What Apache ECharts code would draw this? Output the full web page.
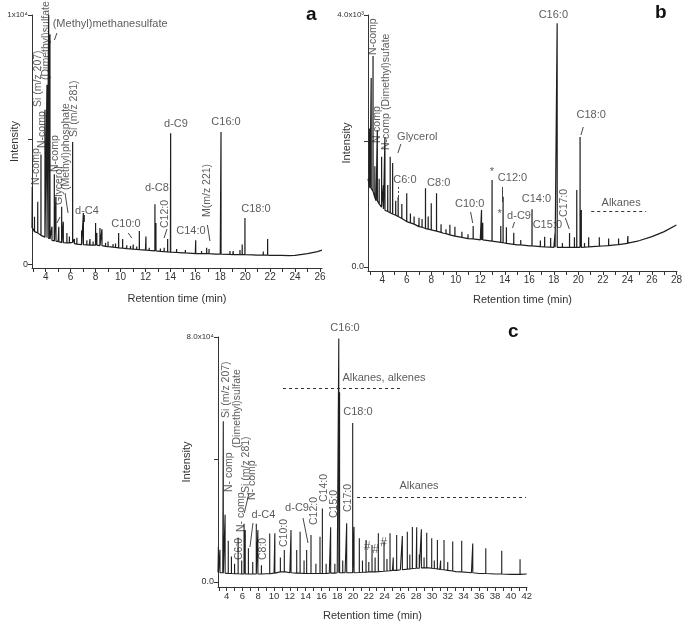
<!DOCTYPE html>
<html><head><meta charset="utf-8">
<script src="https://cdn.jsdelivr.net/npm/echarts@6/dist/echarts.min.js"></script>
<style>html,body{margin:0;padding:0;background:#fff}#c{width:685px;height:626px}</style>
</head><body><div id="c"></div>
<script>
const FONT = '"Liberation Sans", Arial, sans-serif';

// ---------- Panel a ----------
const xLabelsA = [4,6,8,10,12,14,16,18,20,22,24,26];
const xTicksA = [3,4,5,6,7,8,9,10,11,12,13,14,15,16,17,18,19,20,21,22,23,24,25,26];
const yTicksA = [0,5000,10000];
const yLabelsA = [0,10000];
const baselineA = [[2.9,1450],[3.2,1300],[3.5,1200],[4.0,1080],[4.5,950],[5.0,900],[5.5,850],[6.0,860],[6.5,800],[7.0,780],[7.5,760],[8.0,750],[9.0,700],[10.0,640],[11.0,600],[12.0,560],[13.0,520],[14.0,480],[15.0,450],[16.0,420],[17.0,410],[18.0,400],[19.0,380],[20.0,370],[21.0,360],[22.0,350],[23.0,340],[24.0,345],[25.0,420],[25.8,500],[26.15,560]];
// [time, local baseline, peak top]
const peaksA = [[2.92,1450,3100],[3.1,1300,1900],[3.36,1250,2500],[3.62,1150,4400],[3.94,1080,6200],[4.1,1050,7200],[4.24,1000,10000],[4.34,1000,9200],[4.5,950,1500],[4.69,930,3600],[4.82,920,2700],[5.05,900,1500],[5.28,860,2300],[5.41,860,1700],[5.7,850,1250],[5.9,850,1100],[6.16,870,4900],[6.3,820,1000],[6.5,800,1050],[6.88,780,1350],[7.02,780,2050],[7.3,770,950],[7.55,760,1000],[7.8,760,900],[8.0,760,1650],[8.1,760,1250],[8.35,740,1450],[8.51,740,1400],[8.8,710,850],[9.0,700,900],[9.4,680,800],[9.6,670,820],[9.85,650,1250],[10.17,640,1000],[10.5,620,750],[10.8,610,720],[11.02,600,780],[11.3,590,700],[11.51,580,1330],[12.04,560,1100],[12.3,550,650],[12.76,530,2400],[12.84,530,1650],[13.2,510,620],[13.5,500,650],[13.78,490,1000],[14.02,480,5250],[14.5,470,600],[15.2,450,560],[15.5,440,520],[16.03,420,950],[16.5,420,520],[16.91,420,650],[17.1,420,600],[17.6,400,480],[18.06,400,5300],[18.78,390,520],[19.04,380,520],[19.3,380,450],[19.58,380,560],[19.76,380,780],[19.98,380,1850],[20.6,370,450],[20.9,360,420],[21.45,360,500],[21.8,360,1000],[22.3,350,420],[22.92,350,420],[23.5,340,380]];
// [text, time, intensity, rotated]
const annotA = [
  ['(Methyl)methanesulfate',4.56,9638,0,'left'],['d-C9',14.45,5622,0],['C16:0',18.46,5703,0],['d-C8',12.92,3052,0],
  ['C18:0',20.86,2209,0],['C10:0',10.44,1606,0],['C14:0',15.65,1325,0],['d-C4',7.31,2128,0],
  ['M(m/z 221)',16.97,1888,1],['C12:0',13.54,1446,1],['N-comp',3.22,3173,1],['Si (m/z 207)',3.38,6305,1],
  ['N-comp',3.74,4659,1],['(Dimethyl)sulfate',4.06,7389,1],['N-comp',4.74,3695,1],['Glycerol',5.11,2369,1],
  ['(Methyl)phosphate',5.63,2972,1],['Si (m/z 281)',6.27,5100,1]
];
const leadersA = [[4.70,8996,4.90,9277],[10.62,1245,10.90,1044],[16.97,1566,17.17,924],[13.49,1044,13.73,1406],[4.90,1647,5.15,1888],[5.55,2851,5.79,2048],[7.07,1968,7.07,1687]];
const dashesA = [];

// ---------- Panel b ----------
const xLabelsB = [4,6,8,10,12,14,16,18,20,22,24,26,28];
const xTicksB = [3,4,5,6,7,8,9,10,11,12,13,14,15,16,17,18,19,20,21,22,23,24,25,26,27,28];
const yTicksB = [0,2000,4000];
const yLabelsB = [0,4000];
const baselineB = [[2.84,1400],[3.0,1250],[3.5,1050],[4.0,950],[5.0,825],[6.0,720],[7.0,635],[8.0,590],[9.0,535],[10.0,480],[11.0,450],[12.0,430],[13.0,400],[14.0,375],[15.0,350],[16.0,335],[17.0,320],[18.0,312],[19.0,310],[20.0,312],[21.0,320],[22.0,333],[23.0,350],[24.0,376],[25.0,420],[26.0,481],[27.0,561],[28.0,667],[28.04,675]];
const peaksB = [[2.95,1300,2200],[3.1,1250,3000],[3.25,1200,3350],[3.4,1100,1600],[3.6,1050,2170],[3.75,1000,1400],[3.95,950,1750],[4.1,920,1300],[4.22,900,2060],[4.45,880,1300],[4.65,860,1750],[4.85,840,1650],[5.1,820,1050],[5.3,800,1110],[5.6,770,1000],[6.0,720,1170],[6.3,700,850],[6.6,680,800],[7.0,640,780],[7.25,630,760],[7.53,610,1250],[7.75,600,800],[8.0,590,1010],[8.43,570,1170],[8.8,550,680],[9.2,530,600],[9.52,510,670],[9.93,490,640],[10.5,470,560],[11.0,450,520],[11.42,445,650],[12.1,430,905],[12.2,430,700],[12.96,410,1380],[13.67,390,650],[13.86,385,1116],[14.13,375,630],[14.73,360,545],[15.3,350,430],[16.22,335,915],[16.9,322,420],[17.25,320,481],[17.74,315,460],[18.1,312,540],[18.27,312,3870],[18.7,310,380],[19.28,310,540],[19.68,310,470],[19.87,311,1222],[20.14,312,2063],[20.24,312,905],[20.5,315,380],[20.84,318,470],[21.71,330,470],[22.47,340,450],[23.28,355,450],[24.04,378,492],[24.83,410,430]];
const annotB = [
  ['Glycerol',6.86,2063,0],['C6:0',5.85,1381,0],['C8:0',8.61,1333,0],['*',12.95,1508,0],['C12:0',14.63,1412,0],
  ['C10:0',11.13,1000,0],['*',13.57,841,0],['d-C9',15.16,809,0],['C14:0',16.58,1079,0],['C15:0',17.47,667,0],
  ['Alkanes',23.49,1016,0],['C16:0',17.96,3999,0],['C18:0',21.05,2412,0],
  ['N-comp',3.29,3364,1],['(Dimethyl)sufate',4.30,2492,1],['N-comp',3.57,1968,1],['N-comp',4.34,1857,1],['C17:0',18.86,794,1]
];
const leadersB = [[5.28,1809,5.52,1952],[13.82,1270,13.82,1032],[11.21,873,11.38,698],[14.63,619,14.79,714],[18.94,778,19.26,603],[20.21,2095,20.40,2222]];
const dashedLeadersB = [[5.28,1270,5.28,1063]];
const dashesB = [[21.05,25.52,889]];

// ---------- Panel c ----------
const xLabelsC = [4,6,8,10,12,14,16,18,20,22,24,26,28,30,32,34,36,38,40,42];
const xTicksC = [3,4,5,6,7,8,9,10,11,12,13,14,15,16,17,18,19,20,21,22,23,24,25,26,27,28,29,30,31,32,33,34,35,36,37,38,39,40,41,42];
const yTicksC = [0,40000,80000];
const yLabelsC = [0,80000];
const baselineC = [[2.9,3200],[3.5,3000],[4,2800],[5,2700],[6,2600],[7,2600],[8,2600],[9,2700],[10,2900],[10.8,3400],[11.5,3300],[12,3000],[13,2900],[14,2800],[15,2800],[16,2800],[17,2900],[18,3000],[19,3000],[20,3000],[21,3100],[22,3300],[23,3400],[24,3600],[25,3800],[26,4000],[27,4300],[28,4500],[29,4700],[30,4500],[31,4100],[32,3800],[33,3400],[34,3100],[35,3000],[36,2800],[37,2700],[38,2600],[40,2500],[42,2600],[42.04,2600]];
const peaksC = [[2.95,3000,11500],[3.15,3000,10500],[3.57,2900,52500],[3.8,2900,22000],[4.2,2800,13500],[4.6,2800,8300],[5.0,2700,6000],[5.45,2700,14500],[5.9,2600,7000],[6.2,2600,19000],[6.35,2600,17000],[6.75,2600,11000],[7.3,2600,6500],[7.75,2600,19000],[7.95,2600,17000],[8.4,2600,5500],[9.45,2700,15800],[10.1,2900,15900],[10.8,3300,8000],[11.3,3400,10450],[12.15,3000,17000],[12.87,2900,10450],[13.3,2900,16400],[13.8,2800,7000],[14.13,2800,10450],[14.68,2800,15350],[15.3,2800,6000],[15.82,2800,14800],[16.12,2800,24000],[16.6,2800,6000],[17.17,2900,17850],[17.7,2900,6000],[18.2,3000,79500],[18.3,3000,62000],[18.7,3000,7000],[19.2,3000,19150],[19.96,3000,51900],[20.13,3000,18000],[20.8,3100,14300],[21.2,3200,7000],[21.65,3200,13700],[22.0,3300,6500],[22.41,3300,12100],[22.8,3300,8000],[23.21,3400,15900],[23.93,3500,13200],[24.3,3600,7500],[24.69,3700,15900],[25.1,3800,8000],[25.53,3800,15350],[26.25,4000,15000],[26.88,4200,16400],[27.2,4300,9000],[27.52,4400,18000],[28.07,4500,17850],[28.4,4500,9000],[28.66,4600,17200],[29.0,4600,8000],[29.34,4700,16100],[29.97,4500,14300],[30.3,4400,7000],[30.69,4300,13700],[31.1,4100,7000],[31.53,4000,13700],[32.0,3800,6500],[32.63,3600,13200],[33.77,3300,13500],[35.17,3000,12600],[36.82,2800,11000],[38.84,2600,10200],[41.16,2500,7400]];
const annotC = [
  ['C16:0',18.99,82931,0],['Alkanes, alkenes',23.93,66606,0],['C18:0',20.63,55505,0],['d-C4',8.66,21876,0],
  ['d-C9',12.91,24161,0],['#',21.77,11428,0],['#',22.85,10448,0],['#',23.86,12734,0],['Alkanes',28.36,31344,0],
  ['Si (m/z 207)',3.91,53546,1],['(Dimethyl)sulfate',5.37,43751,1],['N- comp',4.29,29385,1],['Si (m/z 281)',6.45,29059,1],
  ['N- comp',7.27,26773,1],['C6:0',5.56,7183,1],['N- comp',5.81,16325,1],['C8:0',8.60,7183,1],['C10:0',11.26,11428,1],
  ['C12:0',15.06,18611,1],['C14:0',16.33,26120,1],['C15:0',17.59,20896,1],['C17:0',19.43,22855,1]
];
const leadersC = [[6.95,11428,7.33,19264],[13.67,20896,14.30,12734],[6.23,22529,6.83,29059]];
const dashesC = [[11.13,26.21,63341],[20.51,41.91,27524]];

// ---------- build ----------
function traceData(base, peaks) {
  const pts = base.map(p => [p[0], p[1]]);
  peaks.forEach(p => { pts.push([p[0] - 0.004, p[1]], [p[0], p[2]], [p[0] + 0.004, p[1]]); });
  pts.sort((a, b) => a[0] - b[0]);
  return pts;
}
const grids = [
  {left: 32, top: 15, width: 290, height: 253},
  {left: 368, top: 15, width: 310, height: 256},
  {left: 218, top: 337, width: 309, height: 250}
];
const xr = [[2.9, 26.16], [2.84, 28.04], [2.9, 42.04]];
const yr = [[-160, 10000], [-64, 4000], [-1630, 80000]];
const xLab = [xLabelsA, xLabelsB, xLabelsC];
const xTk = [xTicksA, xTicksB, xTicksC];
const yTk = [yTicksA, yTicksB, yTicksC];
const yLab = [yLabelsA, yLabelsB, yLabelsC];
const yTopText = ['1x10⁴', '4.0x10³', '8.0x10⁴'];
const yZeroText = ['0', '0.0', '0.0'];
const xNameGap = [25, 23, 23];
const yNameGap = [12, 16, 26];
const xFont = [10, 10, 9.5];

const xAxes = [], yAxes = [], series = [];
for (let i = 0; i < 3; i++) {
  xAxes.push({
    type: 'value', gridIndex: i, min: xr[i][0], max: xr[i][1],
    axisLine: {onZero: false, lineStyle: {color: '#333', width: 1}},
    axisTick: {customValues: xTk[i], length: 4, lineStyle: {color: '#333'}},
    axisLabel: {customValues: xLab[i], fontSize: xFont[i], color: '#333', margin: 4, fontFamily: FONT},
    splitLine: {show: false},
    name: 'Retention time (min)', nameLocation: 'middle', nameGap: xNameGap[i], nameMoveOverlap: false,
    nameTextStyle: {fontSize: 11, color: '#333', fontFamily: FONT}
  });
  const top = yTopText[i], zero = yZeroText[i];
  yAxes.push({
    type: 'value', gridIndex: i, min: yr[i][0], max: yr[i][1],
    axisLine: {show: true, onZero: false, lineStyle: {color: '#333', width: 1}},
    axisTick: {show: true, customValues: yTk[i], length: 4, lineStyle: {color: '#333'}},
    axisLabel: {customValues: yLab[i], margin: 4, fontFamily: FONT,
      formatter: v => v === 0 ? '{z|' + zero + '}' : '{t|' + top + '}',
      rich: {z: {fontSize: 9, color: '#333', fontFamily: FONT}, t: {fontSize: 8, color: '#333', fontFamily: FONT}}},
    splitLine: {show: false},
    name: 'Intensity', nameLocation: 'middle', nameGap: yNameGap[i], nameMoveOverlap: false,
    nameTextStyle: {fontSize: 11, color: '#333', fontFamily: FONT}
  });
}
const baseL = [baselineA, baselineB, baselineC];
const peakL = [peaksA, peaksB, peaksC];
const annL = [annotA, annotB, annotC];
const leadL = [leadersA, leadersB, leadersC];
const dLeadL = [[], dashedLeadersB, []];
const dashL = [dashesA, dashesB, dashesC];
const lineW = [1.2, 1.2, 1.1];

for (let i = 0; i < 3; i++) {
  const ml = [];
  leadL[i].forEach(l => ml.push([{coord: [l[0], l[1]], lineStyle: {type: 'solid', color: '#333', width: 0.9}}, {coord: [l[2], l[3]]}]));
  dLeadL[i].forEach(l => ml.push([{coord: [l[0], l[1]], lineStyle: {type: [2, 2], color: '#333', width: 0.9}}, {coord: [l[2], l[3]]}]));
  dashL[i].forEach(d => ml.push([{coord: [d[0], d[2]], lineStyle: {type: [3, 3], color: '#333', width: 1}}, {coord: [d[1], d[2]]}]));
  series.push({
    type: 'line', xAxisIndex: i, yAxisIndex: i, data: traceData(baseL[i], peakL[i]),
    showSymbol: false, symbol: 'none', silent: true, animation: false,
    lineStyle: {color: '#1e1e1e', width: lineW[i]},
    markLine: {silent: true, symbol: 'none', animation: false, label: {show: false}, emphasis: {disabled: true}, data: ml}
  });
  const horiz = annL[i].filter(a => !a[3]);
  const vert = annL[i].filter(a => a[3]);
  series.push({
    type: 'scatter', xAxisIndex: i, yAxisIndex: i, symbolSize: 0.1, clip: false, silent: true, animation: false,
    itemStyle: {color: 'transparent'},
    data: horiz.map(a => ({name: a[0], value: [a[1], a[2]], label: {align: a[4] || 'center', fontSize: a[0] === '#' ? 12 : 11}})),
    label: {show: true, position: 'inside', formatter: '{b}', color: '#333', fontSize: 11, fontFamily: FONT, verticalAlign: 'middle'}
  });
  series.push({
    type: 'scatter', xAxisIndex: i, yAxisIndex: i, symbolSize: 0.1, clip: false, silent: true, animation: false,
    itemStyle: {color: 'transparent'},
    data: vert.map(a => ({name: a[0], value: [a[1], a[2]]})),
    label: {show: true, position: 'inside', formatter: '{b}', color: '#333', fontSize: 10.5, fontFamily: FONT,
      rotate: 90, align: 'left', verticalAlign: 'middle'}
  });
}

const chart = echarts.init(document.getElementById('c'), null, {renderer: 'canvas'});
chart.setOption({
  animation: false,
  backgroundColor: '#fff',
  textStyle: {fontFamily: FONT},
  grid: grids,
  xAxis: xAxes,
  yAxis: yAxes,
  series: series,
  graphic: [
    {type: 'text', left: 306, top: 5, style: {text: 'a', font: 'bold 19px ' + FONT, fill: '#111'}},
    {type: 'text', left: 655, top: 3, style: {text: 'b', font: 'bold 19px ' + FONT, fill: '#111'}},
    {type: 'text', left: 508, top: 322, style: {text: 'c', font: 'bold 19px ' + FONT, fill: '#111'}}
  ]
});
</script></body></html>
